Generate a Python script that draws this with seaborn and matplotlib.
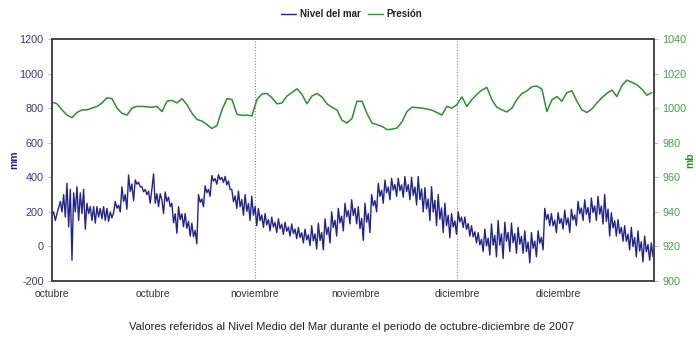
import numpy as np
import pandas as pd
import matplotlib
matplotlib.use("Agg")
import matplotlib.pyplot as plt
import seaborn as sns
from matplotlib.lines import Line2D

# ---------------- data ----------------
start_date = "2007-10-02"
sea_step = "355min"      # sampling interval of the sea-level series
pres_step = "1066min"    # sampling interval of the pressure series
x_span_days = 89.15

nivel_mm = [
    # early October (noisy)
    180, 200, 150, 190, 225, 260, 200, 300, 170, 365, 114, 330, -80, 310, 200, 345, 150, 310, 190, 330,
    100, 250, 190, 230, 150, 230, 135, 230, 170, 220, 160, 230, 150, 220, 145, 200, 165, 195,
    260, 221, 239, 200, 345, 260, 300, 215, 413, 317, 361, 265, 385, 360, 371, 345,
    345, 316, 329, 300, 320, 250,
    # mid October
    330, 420, 250, 305, 230, 305, 270, 190,
    315, 260, 285, 230, 250, 137, 189, 76, 230, 155, 189, 114, 190, 105, 145, 60,
    134, 57, 92, 15, 300, 255, 275, 230, 350, 311, 329, 290, 410, 378, 392, 360,
    415, 386, 399, 370, 405, 356, 379, 330, 330, 259, 292, 220, 320, 229, 271, 180,
    300, 203, 248, 150,
    # early November
    290, 180, 231, 120, 220, 149, 182, 110, 190, 125, 155, 90, 170, 112, 139, 80,
    160, 102, 129, 70, 140, 88, 112, 60, 130, 75, 100, 45, 110, 52, 79, 20,
    100, 38, 67, 5, 120, 32, 73, -15, 135, 34, 81, -20, 160, 69, 111, 20,
    200, 109, 151, 60, 220, 136, 175, 90, 250, 172, 208, 130,
    # mid November
    270, 179, 221, 130, 230, 103, 162, 35, 250, 140, 190, 80, 300, 235, 265, 200,
    365, 290, 325, 250, 384, 310, 344, 270, 394, 326, 358, 290, 394, 323, 356, 285,
    404, 317, 357, 270, 400, 296, 344, 240, 404, 271, 333, 200, 340, 217, 274, 150,
    346, 199, 267, 120, 300, 157, 223, 80, 250, 120, 180, 50,
    # early December
    190, 112, 148, 70, 200, 142, 169, 110, 170, 99, 132, 60, 120, 55, 85, 20,
    80, 9, 42, -30, 100, 3, 48, -50, 130, 7, 64, -60, 150, 7, 73, -70,
    140, 30, 81, -30, 135, 21, 74, -40, 110, 13, 58, -40, 90, -30, 25, -95,
    80, -11, 31, -60, 90, 19, 52, -20, 220, 155, 185, 120,
    # mid / late December
    190, 119, 152, 80, 195, 133, 162, 100, 210, 126, 165, 80, 215, 153, 182, 120,
    260, 189, 222, 150, 270, 186, 225, 140, 280, 196, 235, 150, 290, 186, 234, 130,
    300, 144, 216, 60, 195, 107, 148, 60, 155, 74, 111, 30, 120, 29, 71, -20,
    110, -1, 51, -60, 90, -27, 27, -90, 60, -31, 11, -80, 20, -60,
]

presion_mb = [
    1003.5, 1002.5, 999.0, 996.0, 994.5, 997.5, 999.0, 999.0, 1000.0, 1001.0,
    1003.0, 1006.0, 1005.5, 1000.0, 997.0, 996.0, 1000.0, 1001.0, 1001.0, 1000.8,
    1000.5, 1001.0, 998.0, 1004.0, 1004.5, 1003.0, 1005.5, 1002.0, 997.0, 993.5,
    992.5, 990.5, 988.2, 990.0, 999.0, 1005.5, 1005.0, 996.5, 995.8, 996.0,
    995.5, 1005.0, 1008.2, 1008.5, 1006.0, 1002.5, 1003.0, 1007.0, 1009.0, 1011.2,
    1008.0, 1002.5, 1007.0, 1008.5, 1006.5, 1002.5, 1000.5, 999.0, 993.0, 991.4,
    994.0, 1004.0, 1004.0, 997.0, 991.4, 990.5, 989.5, 987.6, 987.8, 988.5,
    992.0, 998.0, 1000.5, 1000.3, 1000.0, 999.5, 998.8, 997.5, 996.0, 1001.0,
    1000.0, 1002.0, 1006.5, 1001.0, 1005.0, 1008.0, 1010.5, 1012.0, 1004.8, 1000.5,
    999.0, 997.8, 1000.0, 1005.0, 1008.5, 1010.0, 1012.4, 1012.8, 1011.0, 998.0,
    1004.8, 1006.7, 1004.0, 1009.0, 1010.0, 1004.0, 999.0, 997.5, 999.5, 1003.0,
    1006.0, 1008.6, 1010.5, 1006.7, 1013.0, 1016.2, 1015.0, 1013.5, 1011.0, 1007.5,
    1009.0,
]

month_labels = ["octubre", "octubre", "noviembre", "noviembre", "diciembre", "diciembre"]
tick_every = "15D"
left_ticks = [-200, 0, 200, 400, 600, 800, 1000, 1200]
right_ticks = [900, 920, 940, 960, 980, 1000, 1020, 1040]
series_names = ["Nivel del mar", "Presión"]
caption = "Valores referidos al Nivel Medio del Mar durante el periodo de octubre-diciembre de 2007"

# ---------------- build frames ----------------
t_sea = pd.date_range(start_date, periods=len(nivel_mm), freq=sea_step)
t_pres = pd.date_range(start_date, periods=len(presion_mb), freq=pres_step)
df_sea = pd.DataFrame({"fecha": t_sea, "nivel": nivel_mm})
df_pres = pd.DataFrame({"fecha": t_pres, "presion": presion_mb})

sns.set_style("white")
plt.rcParams["font.family"] = ["Liberation Sans", "DejaVu Sans"]

navy = "#23238a"
green = "#2f8f2f"
left_col = "#3a3a80"
right_col = "#4a9e4a"

fig = plt.figure(figsize=(6.96, 3.43), dpi=100)
ax = fig.add_axes([52 / 696, 1 - 281 / 343, (654 - 52) / 696, (281 - 39) / 343])
ax2 = ax.twinx()

sns.lineplot(data=df_sea, x="fecha", y="nivel", ax=ax, color=navy, linewidth=1.0)
sns.lineplot(data=df_pres, x="fecha", y="presion", ax=ax2, color=green, linewidth=1.1)

t0 = pd.Timestamp(start_date)
ax.set_xlim(t0, t0 + pd.Timedelta(days=x_span_days))
ax.set_ylim(-200, 1200)
ax2.set_ylim(900, 1040)

xt = pd.date_range(start_date, periods=len(month_labels), freq=tick_every)
ax.set_xticks(xt)
ax.set_xticklabels(month_labels, fontsize=7.5, color="#333333")
for k in (2, 4):
    ax.axvline(xt[k], color="#888888", linestyle=(0, (1, 1.5)), linewidth=0.8, zorder=0)

ax.set_yticks(left_ticks)
ax.set_yticklabels([str(v) for v in left_ticks], fontsize=7.8, color=left_col)
ax2.set_yticks(right_ticks)
ax2.set_yticklabels([str(v) for v in right_ticks], fontsize=7.8, color=right_col)

ax.tick_params(axis="x", length=0, pad=6)
ax.tick_params(axis="y", length=3, width=0.6, color="#aaaaaa", pad=3)
ax2.tick_params(axis="y", length=3, width=0.6, color="#aaaaaa", pad=3)

ax.set_xlabel("")
ax.set_ylabel("")
ax2.set_ylabel("")
fig.text(14 / 696, 1 - 160 / 343, "mm", rotation=90, ha="center", va="center",
         fontsize=7.5, fontweight="bold", color=navy)
fig.text(690 / 696, 1 - 160 / 343, "mb", rotation=90, ha="center", va="center",
         fontsize=7.5, fontweight="bold", color=green)

for a in (ax, ax2):
    for s in a.spines.values():
        s.set_visible(True)
        s.set_color("#444444")
        s.set_linewidth(1.2)

handles = [Line2D([], [], color=navy, linewidth=1.0), Line2D([], [], color=green, linewidth=1.0)]
leg = fig.legend(handles, series_names, loc="center", bbox_to_anchor=(352 / 696, 1 - 14 / 343),
                 ncol=2, frameon=False, handlelength=1.5, handletextpad=0.4, columnspacing=0.8,
                 prop={"size": 7, "weight": "bold",
                       "family": ["Liberation Sans Narrow", "Liberation Sans"]})
for txt in leg.get_texts():
    txt.set_color("#222222")

fig.text(352 / 696, 1 - 327 / 343, caption, ha="center", va="center", fontsize=8.1, color="#222222")

fig.savefig("out.png", dpi=100)
